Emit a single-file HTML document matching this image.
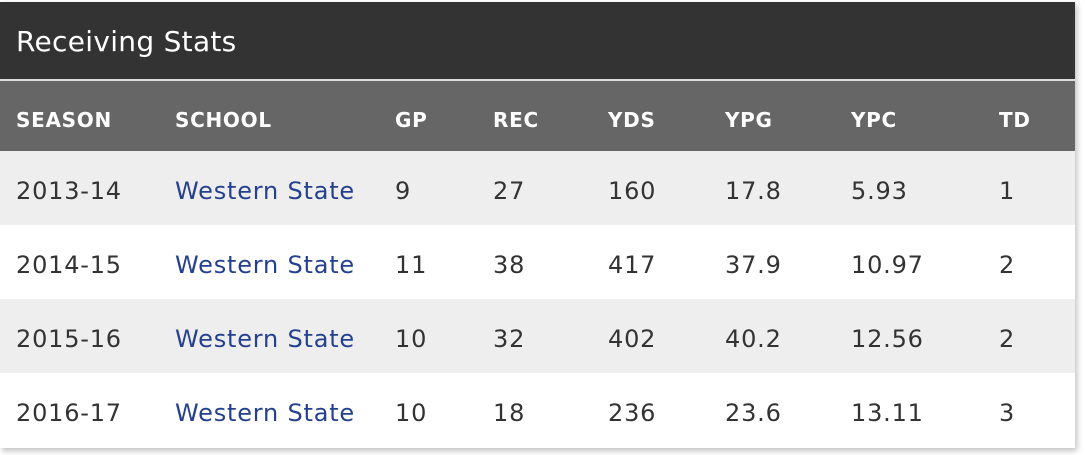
<!DOCTYPE html>
<html><head><style>
body{margin:0;background:#fff;width:1085px;height:455px;overflow:hidden;font-family:"DejaVu Sans","Liberation Sans",sans-serif}
.box{position:absolute;left:0;top:2px;width:1075px;height:446px;box-shadow:2px 3px 6px rgba(0,0,0,0.25);background:#fff}
.title{position:absolute;left:0;top:0;width:1075px;height:77px;background:#333;color:#fff;font-size:28px;letter-spacing:0.3px;line-height:80px;text-indent:16px}
.sep{position:absolute;left:0;top:77px;width:1075px;height:2px;background:#ddd}
.hdr{position:absolute;left:0;top:79px;width:1075px;height:70px;background:#666;color:#fff;font-weight:bold;font-size:20px;letter-spacing:0.7px}
.row{position:absolute;left:0;width:1075px;height:74px;font-size:24px;letter-spacing:0.8px;color:#333}
.c{position:absolute;top:0;line-height:80px;white-space:nowrap}
.hdr .c{line-height:78px}
.a{color:#25408f}
</style></head><body>
<div class="box">
<div class="title">Receiving Stats</div>
<div class="sep"></div>
<div class="hdr"><span class="c" style="left:16px">SEASON</span><span class="c" style="left:175px">SCHOOL</span><span class="c" style="left:395px">GP</span><span class="c" style="left:493px">REC</span><span class="c" style="left:608px">YDS</span><span class="c" style="left:725px">YPG</span><span class="c" style="left:851px">YPC</span><span class="c" style="left:999px">TD</span></div>
<div class="row" style="top:149px;background:#eee"><span class="c" style="left:16px">2013-14</span><span class="c a" style="left:175px">Western State</span><span class="c" style="left:395px">9</span><span class="c" style="left:493px">27</span><span class="c" style="left:608px">160</span><span class="c" style="left:725px">17.8</span><span class="c" style="left:851px">5.93</span><span class="c" style="left:999px">1</span></div>
<div class="row" style="top:223px;background:#fff"><span class="c" style="left:16px">2014-15</span><span class="c a" style="left:175px">Western State</span><span class="c" style="left:395px">11</span><span class="c" style="left:493px">38</span><span class="c" style="left:608px">417</span><span class="c" style="left:725px">37.9</span><span class="c" style="left:851px">10.97</span><span class="c" style="left:999px">2</span></div>
<div class="row" style="top:297px;background:#eee"><span class="c" style="left:16px">2015-16</span><span class="c a" style="left:175px">Western State</span><span class="c" style="left:395px">10</span><span class="c" style="left:493px">32</span><span class="c" style="left:608px">402</span><span class="c" style="left:725px">40.2</span><span class="c" style="left:851px">12.56</span><span class="c" style="left:999px">2</span></div>
<div class="row" style="top:371px;background:#fff"><span class="c" style="left:16px">2016-17</span><span class="c a" style="left:175px">Western State</span><span class="c" style="left:395px">10</span><span class="c" style="left:493px">18</span><span class="c" style="left:608px">236</span><span class="c" style="left:725px">23.6</span><span class="c" style="left:851px">13.11</span><span class="c" style="left:999px">3</span></div>
</div>
</body></html>
